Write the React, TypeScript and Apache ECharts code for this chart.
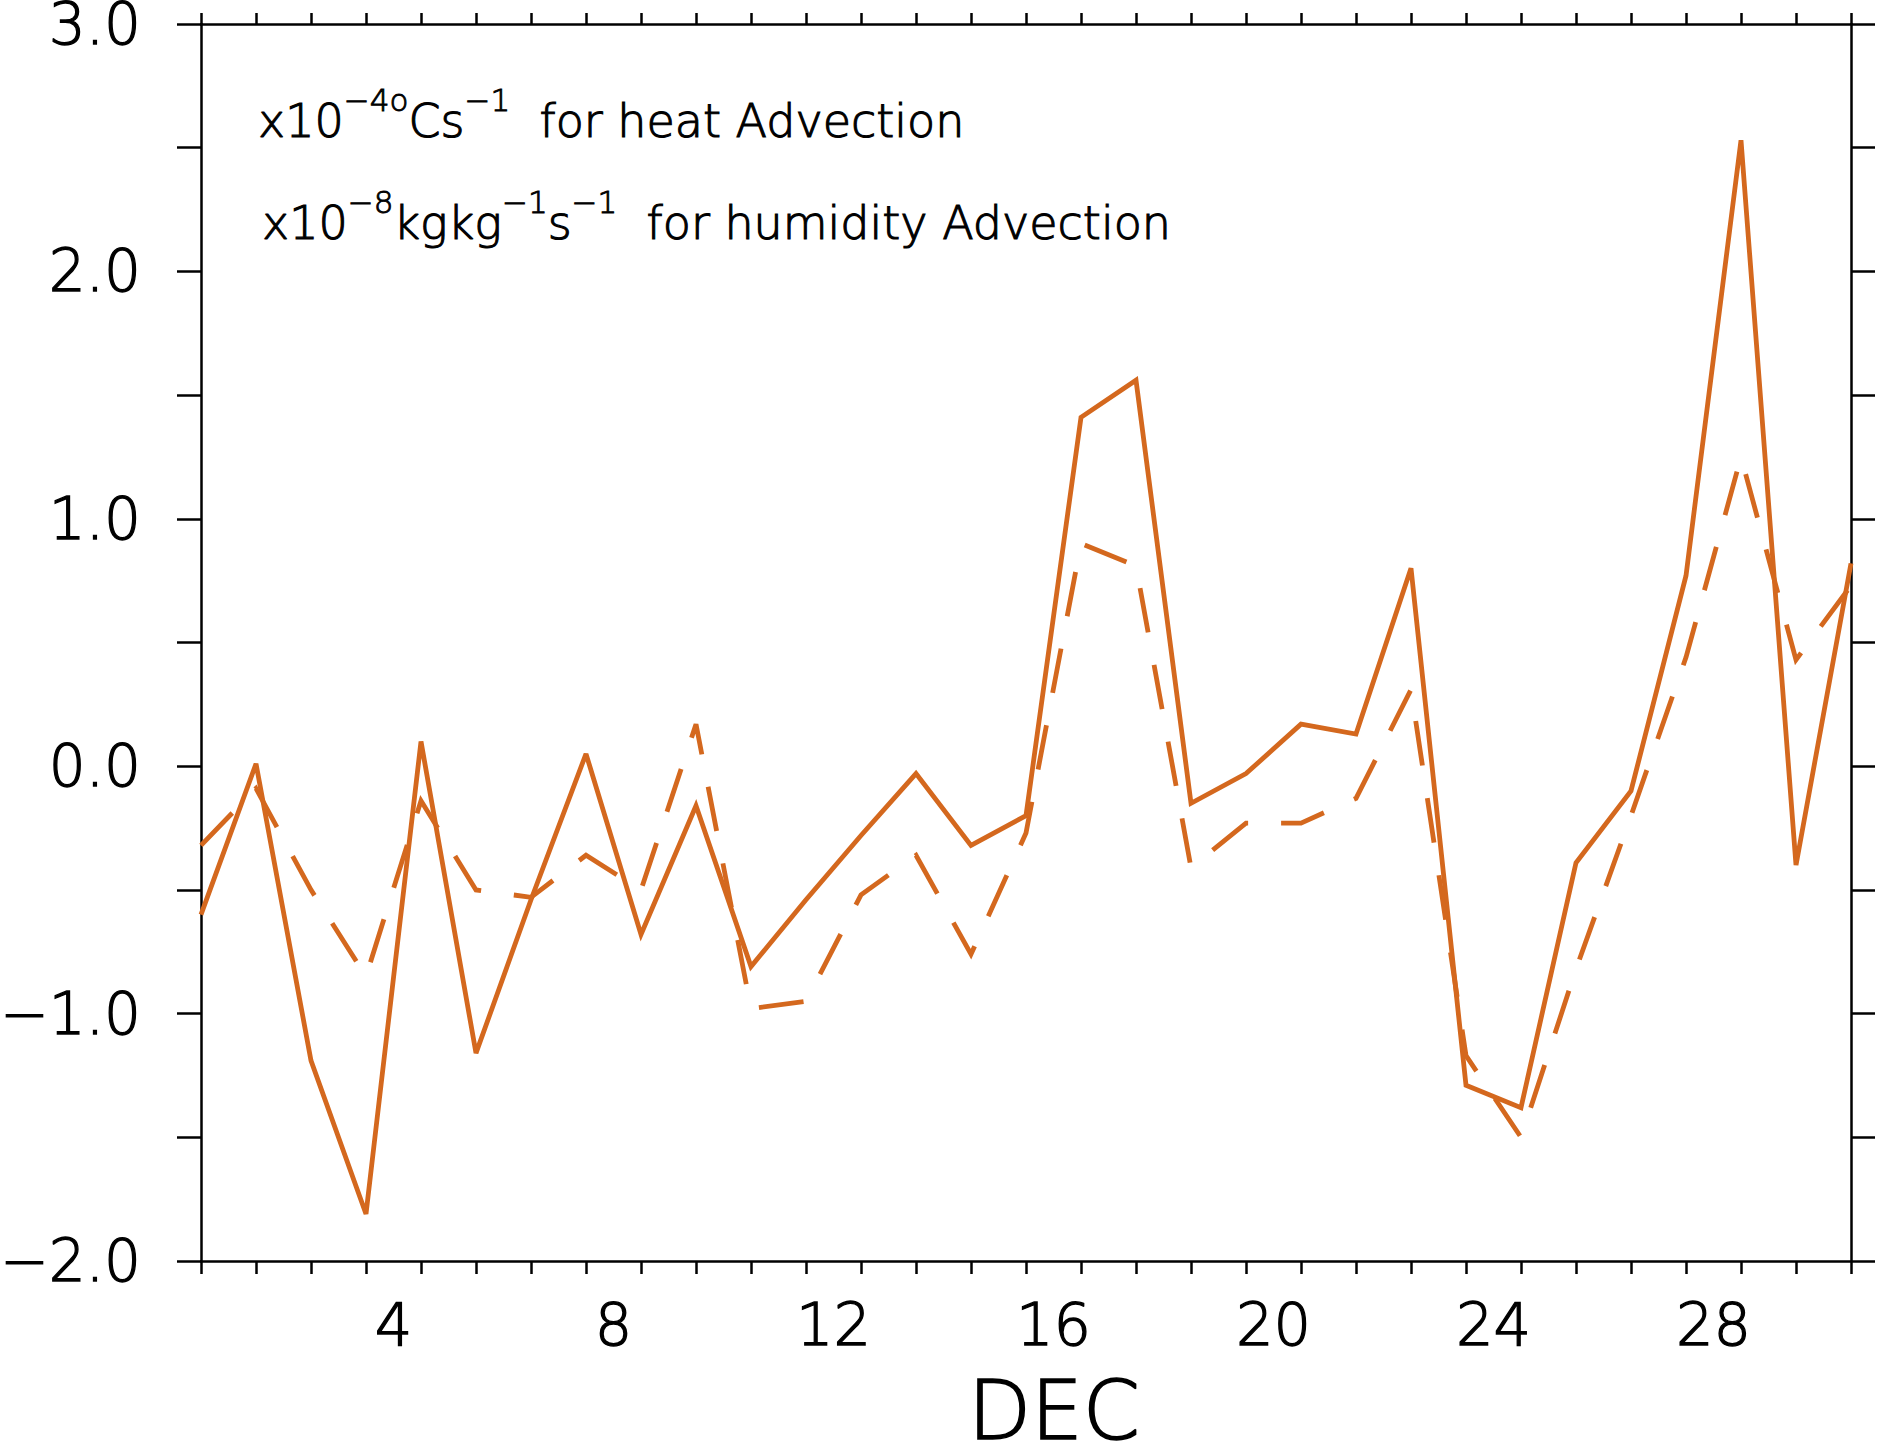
import React, { useEffect, useRef } from "react";
import * as echarts from "echarts";

// Day offsets from 1 Dec 00Z (one value per day, 1 Dec .. 31 Dec)
const DAYS: number[] = Array.from({ length: 31 }, (_, i) => i);

// Heat advection (solid)
const HEAT_ADV: number[] = [
  -0.60, 0.01, -1.19, -1.81, 0.10, -1.16, -0.54, 0.05, -0.68, -0.16, -0.81,
  -0.54, -0.28, -0.03, -0.32, -0.20, 1.41, 1.56, -0.15, -0.03, 0.17, 0.13,
  0.80, -1.29, -1.38, -0.39, -0.10, 0.77, 2.53, -0.40, 0.82,
];

// Humidity advection (dashed)
const HUM_ADV: number[] = [
  -0.32, -0.09, -0.50, -0.85, -0.14, -0.50, -0.53, -0.36, -0.50, 0.17, -0.98,
  -0.95, -0.52, -0.36, -0.76, -0.27, 0.90, 0.81, -0.41, -0.23, -0.23, -0.13,
  0.31, -1.17, -1.50, -0.82, -0.20, 0.44, 1.25, 0.43, 0.73,
];

// x tick labels (placed at the middle of the labelled day)
const DAY_LABELS: string[] = ["4", "8", "12", "16", "20", "24", "28"];
const DAY_LABEL_FIRST_TICK = 3; // label "4" belongs to the interval starting at offset 3
const DAY_LABEL_STEP = 4;

// y tick labels
const Y_LABEL_VALUES: number[] = [-2, -1, 0, 1, 2, 3];
const Y_LABELS: string[] = ["\u22122.0", "\u22121.0", "0.0", "1.0", "2.0", "3.0"];

const FONT = "DejaVu Sans";
const WEIGHT = 200;
const LINE_COLOR = "#D4681E";

export default function App() {
  const ref = useRef<HTMLDivElement | null>(null);

  useEffect(() => {
    if (!ref.current) return;
    const chart = echarts.init(ref.current, undefined, { renderer: "svg" });

    const axisLine = { show: true, onZero: false, lineStyle: { color: "#000", width: 2.5 } };
    const tickStyle = { color: "#000", width: 2.5 };
    const thicken = { textBorderColor: "#000", textBorderWidth: 1.3 };

    const xFormatter = (v: number) => {
      const k = (v - DAY_LABEL_FIRST_TICK) / DAY_LABEL_STEP;
      const r = Math.round(k);
      if (Math.abs(k - r) < 1e-6 && r >= 0 && r < DAY_LABELS.length) return DAY_LABELS[r];
      return "";
    };
    const yFormatter = (v: number) => {
      const i = Y_LABEL_VALUES.findIndex((y) => Math.abs(y - v) < 1e-6);
      return i >= 0 ? Y_LABELS[i] : "";
    };

    const normal = {
      fontFamily: FONT,
      fontWeight: WEIGHT,
      fontSize: 46,
      lineHeight: 60,
      verticalAlign: "bottom",
      fill: "#000",
      stroke: "#000",
      lineWidth: 1.1,
    };
    const sup = {
      fontFamily: FONT,
      fontWeight: WEIGHT,
      fontSize: 31,
      lineHeight: 30,
      verticalAlign: "top",
      fill: "#000",
      stroke: "#000",
      lineWidth: 0.9,
    };

    const option: any = {
      animation: false,
      backgroundColor: "#ffffff",
      grid: {
        left: 201,
        right: 28,
        top: 24,
        bottom: 195,
        containLabel: false,
        outerBoundsMode: "none",
      },
      xAxis: [
        {
          type: "value",
          position: "bottom",
          min: 0,
          max: 30,
          interval: 1,
          axisLine,
          axisTick: { show: true, inside: false, length: 13, lineStyle: tickStyle },
          splitLine: { show: false },
          axisLabel: {
            show: true,
            margin: 34,
            fontSize: 59,
            fontFamily: FONT,
            fontWeight: WEIGHT,
            color: "#000",
            ...thicken,
            padding: [0, 0, 0, 55],
            formatter: xFormatter,
          },
        },
        {
          type: "value",
          position: "top",
          min: 0,
          max: 30,
          interval: 1,
          axisLine,
          axisTick: { show: true, inside: false, length: 11, lineStyle: tickStyle },
          splitLine: { show: false },
          axisLabel: { show: false },
        },
      ],
      yAxis: [
        {
          type: "value",
          position: "left",
          min: -2,
          max: 3,
          interval: 0.5,
          axisLine,
          axisTick: { show: true, inside: false, length: 24, lineStyle: tickStyle },
          splitLine: { show: false },
          axisLabel: {
            show: true,
            margin: 60,
            fontSize: 58,
            lineHeight: 44,
            fontFamily: FONT,
            fontWeight: WEIGHT,
            color: "#000",
            ...thicken,
            formatter: yFormatter,
          },
        },
        {
          type: "value",
          position: "right",
          min: -2,
          max: 3,
          interval: 0.5,
          axisLine,
          axisTick: { show: true, inside: false, length: 24, lineStyle: tickStyle },
          splitLine: { show: false },
          axisLabel: { show: false },
        },
      ],
      series: [
        {
          name: "heat Advection",
          type: "line",
          xAxisIndex: 0,
          yAxisIndex: 0,
          data: DAYS.map((d, i) => [d, HEAT_ADV[i]]),
          showSymbol: false,
          symbol: "none",
          lineStyle: { color: LINE_COLOR, width: 4.8, type: "solid", join: "miter", miterLimit: 3 },
          z: 3,
        },
        {
          name: "humidity Advection",
          type: "line",
          xAxisIndex: 0,
          yAxisIndex: 0,
          data: DAYS.map((d, i) => [d, HUM_ADV[i]]),
          showSymbol: false,
          symbol: "none",
          lineStyle: { color: LINE_COLOR, width: 4.8, type: [45, 33], join: "miter", miterLimit: 3 },
          z: 3,
        },
      ],
      graphic: [
        {
          type: "text",
          x: 258,
          y: 84,
          style: {
            text: "{n|x10}{s|\u22124o}{n|Cs}{s|\u22121}{n|  for heat Advection}",
            rich: { n: normal, s: sup },
            verticalAlign: "top",
            align: "left",
          },
        },
        {
          type: "text",
          x: 262,
          y: 186,
          style: {
            text: "{n|x10}{s|\u22128}{n|kgkg}{s|\u22121}{n|s}{s|\u22121}{n|  for humidity Advection}",
            rich: { n: normal, s: sup },
            verticalAlign: "top",
            align: "left",
          },
        },
        {
          type: "text",
          x: 1054,
          y: 1410,
          style: {
            text: "DEC",
            fontFamily: FONT,
            fontWeight: WEIGHT,
            fontSize: 82,
            lineHeight: 60,
            fill: "#000",
            stroke: "#000",
            lineWidth: 1.6,
            align: "center",
            verticalAlign: "middle",
          },
        },
      ],
    };

    chart.setOption(option);
    return () => chart.dispose();
  }, []);

  return (
    <div
      ref={ref}
      style={{ position: "fixed", left: 0, top: 0, width: 1879, height: 1456, background: "#fff" }}
    />
  );
}
